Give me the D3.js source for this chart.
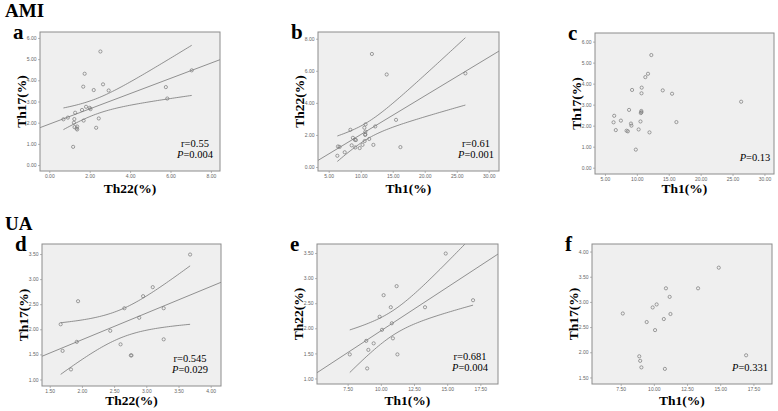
<!DOCTYPE html>
<html lang="en">
<head>
<meta charset="UTF-8">
<title>Th1 / Th17 / Th22 correlations in AMI and UA</title>
<script src="https://d3js.org/d3.v7.min.js"></script>
<style>
  body { margin: 0; background: #fff; }
  svg { display: block; }
  .tick text { font-family: "Liberation Sans", sans-serif; font-size: 5px; fill: #666; }
  .tick line { stroke: #888; stroke-width: 0.6; }
  .domain { display: none; }
  text.serif { font-family: "Liberation Serif", "DejaVu Serif", serif; }
</style>
</head>
<body>
<div id="chart"></div>
<script>
// AMI patients, one entry per patient (values in %)
const amiTh1  = [6.35, 6.45, 6.70, 7.50, 8.39, 8.59, 8.78, 9.08, 9.15, 9.25, 9.84, 10.28, 10.57,
                 10.62, 10.70, 10.72, 10.76, 10.73, 11.33, 11.75, 11.98, 12.27, 14.06, 15.52, 16.20, 26.35];
const amiTh22 = [0.70, 1.28, 1.25, 0.92, 2.32, 1.35, 1.82, 1.70, 1.22, 1.68, 1.18, 1.38, 2.45,
                 1.62, 2.00, 2.04, 2.66, 2.20, 1.75, 7.05, 1.38, 2.53, 5.77, 2.94, 1.24, 5.84];
const amiTh17 = [2.16, 2.47, 1.79, 2.24, 1.76, 1.73, 2.75, 2.10, 2.00, 3.70, 0.86, 1.82, 2.20,
                 2.60, 2.70, 2.64, 3.81, 3.54, 4.31, 4.47, 1.68, 5.36, 3.68, 3.52, 2.17, 3.14];

// UA patients
const uaTh1  = [7.66, 8.90, 8.97, 9.06, 9.46, 9.91, 10.09, 10.21, 10.75, 10.83, 10.91, 11.19, 11.25, 13.33, 14.89, 16.95];
const uaTh22 = [1.48, 1.75, 1.20, 1.57, 1.70, 2.23, 1.97, 2.66, 2.42, 2.10, 1.80, 2.84, 1.48, 2.42, 3.49, 2.56];
const uaTh17 = [2.77, 1.92, 1.83, 1.70, 2.60, 2.89, 2.44, 2.95, 2.66, 1.67, 3.27, 3.10, 2.76, 3.27, 3.68, 1.94];

// tick values
const ticksTh22Ami = [0, 2, 4, 6, 8];
const ticksTh17Ami = [0, 1, 2, 3, 4, 5, 6];
const ticksTh1Ami  = [5, 10, 15, 20, 25, 30];
const ticksHalf15  = [1.5, 2, 2.5, 3, 3.5, 4];
const ticksHalf10  = [1, 1.5, 2, 2.5, 3, 3.5];
const ticksTh1Ua   = [7.5, 10, 12.5, 15, 17.5];

const panels = [
  {letter: "a", x: amiTh22, y: amiTh17, xLabel: "Th22(%)", yLabel: "Th17(%)",
   xDomain: [-0.46, 8.45], yDomain: [-0.28, 6.28], xTicks: ticksTh22Ami, yTicks: ticksTh17Ami,
   fit: true, r: "0.55", p: "0.004", box: {left: 40, top: 32, w: 180, h: 139}, statX: 195, labelY: 193},
  {letter: "b", x: amiTh1, y: amiTh22, xLabel: "Th1(%)", yLabel: "Th22(%)",
   xDomain: [3.33, 31.6], yDomain: [-0.25, 8.42], xTicks: ticksTh1Ami, yTicks: ticksTh22Ami,
   fit: true, r: "0.61", p: "0.001", box: {left: 318, top: 32, w: 181, h: 139}, statX: 476, labelY: 193},
  {letter: "c", x: amiTh1, y: amiTh17, xLabel: "Th1(%)", yLabel: "Th17(%)",
   xDomain: [3.44, 31.5], yDomain: [-0.30, 6.41], xTicks: ticksTh1Ami, yTicks: ticksTh17Ami,
   fit: false, p: "0.13", box: {left: 595, top: 33, w: 179, h: 141}, statX: 755, labelY: 193},
  {letter: "d", x: uaTh17, y: uaTh22, xLabel: "Th22(%)", yLabel: "Th17(%)",
   xDomain: [1.38, 4.16], yDomain: [0.87, 3.70], xTicks: ticksHalf15, yTicks: ticksHalf10,
   fit: true, r: "0.545", p: "0.029", box: {left: 42, top: 244, w: 179, h: 142}, statX: 190, labelY: 405},
  {letter: "e", x: uaTh1, y: uaTh22, xLabel: "Th1(%)", yLabel: "Th22(%)",
   xDomain: [5.19, 18.83], yDomain: [0.89, 3.68], xTicks: ticksTh1Ua, yTicks: ticksHalf10,
   fit: true, r: "0.681", p: "0.004", box: {left: 317, top: 244, w: 181, h: 140}, statX: 470, labelY: 405},
  {letter: "f", x: uaTh1, y: uaTh17, xLabel: "Th1(%)", yLabel: "Th17(%)",
   xDomain: [5.34, 18.9], yDomain: [1.37, 4.15], xTicks: ticksTh1Ua, yTicks: ticksHalf15,
   fit: false, p: "0.331", box: {left: 592, top: 244, w: 180, h: 140}, statX: 750, labelY: 405}
];

const width = 778, height = 411;
const fmt = d3.format(".2f");
const serif = '"Liberation Serif", "DejaVu Serif", serif';

const svg = d3.select("#chart").append("svg")
    .attr("width", width)
    .attr("height", height);

svg.append("text").attr("class", "serif")
    .attr("x", 5).attr("y", 17)
    .attr("font-family", serif)
    .style("font-size", "19px").style("font-weight", "bold")
    .text("AMI");
svg.append("text").attr("class", "serif")
    .attr("x", 5).attr("y", 230)
    .attr("font-family", serif)
    .style("font-size", "19px").style("font-weight", "bold")
    .text("UA");

// t quantile (0.975) for small df, Cornish-Fisher expansion
function tq(df) {
  const z = 1.959964;
  return z + (z ** 3 + z) / (4 * df) + (5 * z ** 5 + 16 * z ** 3 + 3 * z) / (96 * df * df);
}

function linearFit(xs, ys) {
  const n = xs.length;
  const mx = d3.mean(xs), my = d3.mean(ys);
  let sxx = 0, sxy = 0;
  xs.forEach((x, i) => { sxx += (x - mx) ** 2; sxy += (x - mx) * (ys[i] - my); });
  const b = sxy / sxx, a = my - b * mx;
  let sse = 0;
  xs.forEach((x, i) => { sse += (ys[i] - a - b * x) ** 2; });
  const s = Math.sqrt(sse / (n - 2));
  const t = tq(n - 2);
  return {
    yhat: x => a + b * x,
    half: x => t * s * Math.sqrt(1 / n + (x - mx) ** 2 / sxx)
  };
}

panels.forEach((p, k) => {
  const {left, top, w, h} = p.box;
  const g = svg.append("g").attr("transform", `translate(${left},${top})`);

  const x = d3.scaleLinear().domain(p.xDomain).range([0, w]);
  const y = d3.scaleLinear().domain(p.yDomain).range([h, 0]);

  g.append("rect")
      .attr("width", w).attr("height", h)
      .attr("fill", "#efefef");

  g.append("g")
      .attr("transform", `translate(0,${h})`)
      .call(d3.axisBottom(x).tickValues(p.xTicks).tickFormat(fmt).tickSize(2).tickPadding(1.5));
  g.append("g")
      .call(d3.axisLeft(y).tickValues(p.yTicks).tickFormat(fmt).tickSize(2).tickPadding(1.5));

  const pts = p.x.map((v, i) => ({x: v, y: p.y[i]}));

  if (p.fit) {
    const clipId = "clip" + k;
    g.append("clipPath").attr("id", clipId)
      .append("rect").attr("width", w).attr("height", h);
    const fit = linearFit(p.x, p.y);
    const line = d3.line().x(d => x(d[0])).y(d => y(d[1]));
    const fx = p.xDomain;
    const lines = g.append("g").attr("clip-path", `url(#${clipId})`)
        .attr("fill", "none").attr("stroke", "#777").attr("stroke-width", 0.8);
    lines.append("path").attr("d", line([[fx[0], fit.yhat(fx[0])], [fx[1], fit.yhat(fx[1])]]));
    const [lo, hi] = d3.extent(p.x);
    const xs = d3.range(0, 61).map(i => lo + (hi - lo) * i / 60);
    lines.append("path").attr("d", line(xs.map(v => [v, fit.yhat(v) + fit.half(v)])));
    lines.append("path").attr("d", line(xs.map(v => [v, fit.yhat(v) - fit.half(v)])));
  }

  g.selectAll("circle.pt")
    .data(pts)
    .join("circle")
      .attr("class", "pt")
      .attr("cx", d => x(d.x))
      .attr("cy", d => y(d.y))
      .attr("r", 1.6)
      .attr("fill", "none")
      .attr("stroke", "#777")
      .attr("stroke-width", 0.7);

  g.append("rect")
      .attr("width", w).attr("height", h)
      .attr("fill", "none").attr("stroke", "#8c8c8c").attr("stroke-width", 1);

  // stats
  const sx = p.statX - left;
  if (p.r) {
    g.append("text").attr("class", "serif")
        .attr("font-family", serif)
        .attr("x", sx).attr("y", h - 24.5)
        .attr("text-anchor", "middle").style("font-size", "10.5px")
        .text("r=" + p.r);
  }
  const pt = g.append("text").attr("class", "serif")
      .attr("font-family", serif)
      .attr("x", sx).attr("y", h - 13)
      .attr("text-anchor", "middle").style("font-size", "10.5px");
  pt.append("tspan").style("font-style", "italic").text("P");
  pt.append("tspan").text("=" + p.p);

  // axis titles
  g.append("text").attr("class", "serif")
      .attr("font-family", serif)
      .attr("x", w / 2).attr("y", p.labelY - top)
      .attr("text-anchor", "middle")
      .style("font-size", "13.5px").style("font-weight", "bold")
      .text(p.xLabel);
  g.append("text").attr("class", "serif")
      .attr("font-family", serif)
      .attr("transform", `translate(-19,${h / 2}) rotate(-90)`)
      .attr("dy", "0.35em")
      .attr("text-anchor", "middle")
      .style("font-size", "13.5px").style("font-weight", "bold")
      .text(p.yLabel);

  // panel letter
  g.append("text").attr("class", "serif")
      .attr("font-family", serif)
      .attr("x", -27).attr("y", 7)
      .style("font-size", "21px").style("font-weight", "bold")
      .text(p.letter);
});
</script>
</body>
</html>
